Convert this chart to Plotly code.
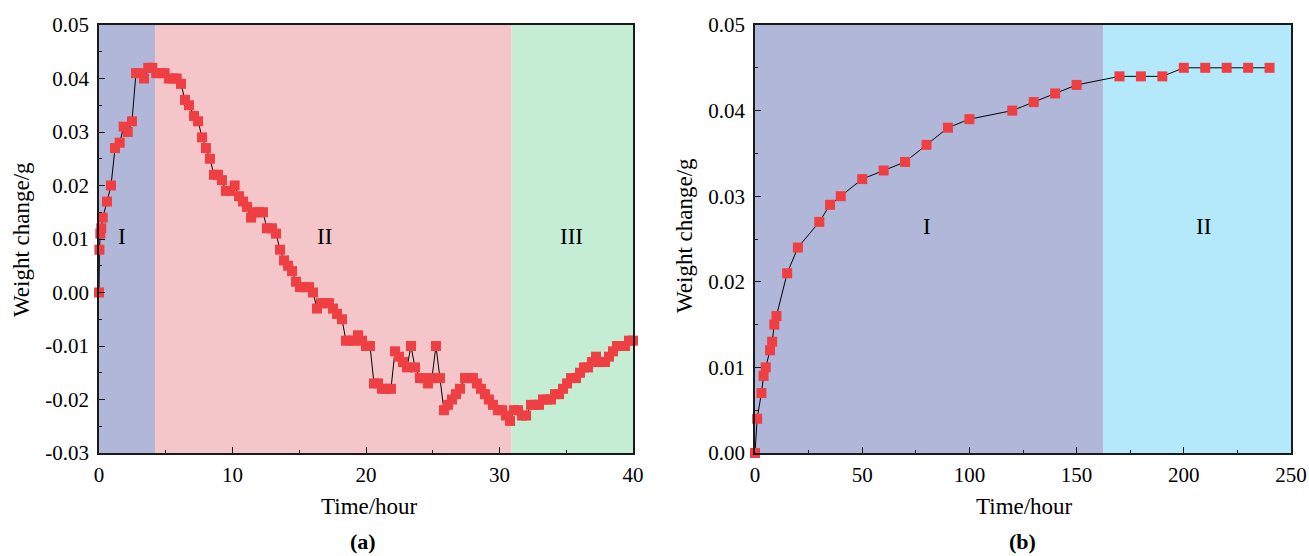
import plotly.graph_objects as go

# ---------------- data: panel (a) ----------------
time_a = [0.00, 0.03, 0.10, 0.17, 0.28, 0.60, 0.90, 1.20, 1.55, 1.85,
          2.15, 2.47, 2.77, 3.07, 3.37, 3.69, 3.99, 4.29, 4.62, 4.91,
          5.24, 5.54, 5.82, 6.14, 6.44, 6.74, 7.12, 7.42, 7.72, 8.01,
          8.31, 8.61, 8.91, 9.21, 9.51, 9.81, 10.16, 10.49, 10.79, 11.09,
          11.39, 11.69, 11.99, 12.28, 12.58, 12.96, 13.26, 13.56, 13.86, 14.16,
          14.46, 14.76, 15.06, 15.43, 15.73, 16.03, 16.33, 16.63, 16.93, 17.23,
          17.53, 17.83, 18.20, 18.50, 18.80, 19.10, 19.40, 19.70, 20.00, 20.30,
          20.60, 20.90, 21.20, 21.50, 21.87, 22.17, 22.47, 22.77, 23.07, 23.37,
          23.67, 24.04, 24.34, 24.64, 24.94, 25.24, 25.54, 25.84, 26.14, 26.44,
          26.74, 27.04, 27.42, 27.72, 28.01, 28.31, 28.61, 28.91, 29.21, 29.51,
          29.89, 30.19, 30.49, 30.79, 31.09, 31.39, 31.69, 31.99, 32.36, 32.66,
          32.96, 33.26, 33.56, 33.86, 34.16, 34.46, 34.76, 35.06, 35.36, 35.73,
          36.03, 36.33, 36.63, 36.93, 37.23, 37.53, 37.90, 38.20, 38.50, 38.80,
          39.10, 39.40, 39.70, 40.00]
weight_a = [0.000, 0.008, 0.011, 0.012, 0.014, 0.017, 0.020, 0.027, 0.028, 0.031,
            0.030, 0.032, 0.041, 0.041, 0.040, 0.042, 0.042, 0.041, 0.041, 0.041,
            0.040, 0.040, 0.040, 0.039, 0.036, 0.035, 0.033, 0.032, 0.029, 0.027,
            0.025, 0.022, 0.022, 0.021, 0.019, 0.019, 0.020, 0.018, 0.017, 0.016,
            0.014, 0.015, 0.015, 0.015, 0.012, 0.012, 0.011, 0.008, 0.006, 0.005,
            0.004, 0.002, 0.001, 0.001, 0.001, 0.000, -0.003, -0.002, -0.002, -0.002,
            -0.003, -0.004, -0.005, -0.009, -0.009, -0.009, -0.008, -0.009, -0.010, -0.010,
            -0.017, -0.017, -0.018, -0.018, -0.018, -0.011, -0.012, -0.013, -0.014, -0.010,
            -0.014, -0.016, -0.016, -0.017, -0.016, -0.010, -0.016, -0.022, -0.021, -0.020,
            -0.019, -0.018, -0.016, -0.016, -0.016, -0.017, -0.018, -0.019, -0.020, -0.021,
            -0.022, -0.022, -0.023, -0.024, -0.022, -0.022, -0.023, -0.023, -0.021, -0.021,
            -0.021, -0.020, -0.020, -0.020, -0.019, -0.019, -0.018, -0.017, -0.016, -0.016,
            -0.015, -0.014, -0.014, -0.013, -0.012, -0.013, -0.013, -0.012, -0.011, -0.010,
            -0.010, -0.010, -0.009, -0.009]

# stage boundaries (hours) and labels, panel (a)
stages_a = [(0, 4.2, "I"), (4.2, 30.9, "II"), (30.9, 40, "III")]
stage_label_x_a = [1.7, 16.9, 35.4]
stage_label_y_a = [0.0105, 0.0105, 0.0105]
stage_colors_a = ["#B0B7D9", "#F4C6CA", "#C5EDD3"]

xticks_a = [0, 10, 20, 30, 40]
yticks_a = [-0.03, -0.02, -0.01, 0.00, 0.01, 0.02, 0.03, 0.04, 0.05]

# ---------------- data: panel (b) ----------------
time_b = [0, 1, 3, 4, 5, 7, 8, 9, 10, 15, 20, 30, 35, 40, 50, 60, 70, 80, 90,
          100, 120, 130, 140, 150, 170, 180, 190, 200, 210, 220, 230, 240]
weight_b = [0.000, 0.004, 0.007, 0.009, 0.010, 0.012, 0.013, 0.015, 0.016, 0.021,
            0.024, 0.027, 0.029, 0.030, 0.032, 0.033, 0.034, 0.036, 0.038, 0.039,
            0.040, 0.041, 0.042, 0.043, 0.044, 0.044, 0.044, 0.045, 0.045, 0.045,
            0.045, 0.045]

stages_b = [(0, 162.5, "I"), (162.5, 250, "II")]
stage_label_x_b = [80, 209]
stage_label_y_b = [0.0265, 0.0265]
stage_colors_b = ["#B0B7D9", "#B3E9FA"]

xticks_b = [0, 50, 100, 150, 200, 250]
yticks_b = [0.00, 0.01, 0.02, 0.03, 0.04, 0.05]

# ---------------- styling ----------------
FONT = "Liberation Serif, Times New Roman, serif"
MARKER_COLOR = "#EF3F42"
AXIS_COLOR = "#1a1a1a"

W, H = 1309, 556
TOP, BOT = 25, 453          # plot area top / bottom in pixels
dom_a = [99 / W, 633 / W]
dom_b = [755 / W, 1291 / W]


def px(xp):
    return xp / W


def py(yp):
    return (BOT - yp) / (BOT - TOP)


fig = go.Figure()

fig.add_trace(go.Scatter(
    x=time_a, y=weight_a, mode="lines+markers", xaxis="x", yaxis="y",
    line=dict(color="black", width=1),
    marker=dict(symbol="square", size=10, color=MARKER_COLOR, line=dict(width=0)),
    cliponaxis=False, showlegend=False))

fig.add_trace(go.Scatter(
    x=time_b, y=weight_b, mode="lines+markers", xaxis="x2", yaxis="y2",
    line=dict(color="black", width=1),
    marker=dict(symbol="square", size=10, color=MARKER_COLOR, line=dict(width=0)),
    cliponaxis=False, showlegend=False))

shapes = []
annotations = []
for (x0, x1, lab), col, lx, ly in zip(stages_a, stage_colors_a, stage_label_x_a, stage_label_y_a):
    shapes.append(dict(type="rect", xref="x", yref="y domain", x0=x0, x1=x1, y0=0, y1=1,
                       fillcolor=col, line=dict(width=0), layer="below"))
    annotations.append(dict(x=lx, y=ly, xref="x", yref="y", text=lab, showarrow=False,
                            xanchor="center", yanchor="middle",
                            font=dict(family=FONT, size=23, color="black")))
for (x0, x1, lab), col, lx, ly in zip(stages_b, stage_colors_b, stage_label_x_b, stage_label_y_b):
    shapes.append(dict(type="rect", xref="x2", yref="y2 domain", x0=x0, x1=x1, y0=0, y1=1,
                       fillcolor=col, line=dict(width=0), layer="below"))
    annotations.append(dict(x=lx, y=ly, xref="x2", yref="y2", text=lab, showarrow=False,
                            xanchor="center", yanchor="middle",
                            font=dict(family=FONT, size=23, color="black")))


def fmt(v):
    return f"{v:.2f}"


TITLE_FONT = dict(family=FONT, size=23, color="black")
PANEL_FONT = dict(family=FONT, size=22, color="black")
annotations += [
    dict(x=px(22), y=py(240), xref="paper", yref="paper", text="Weight change/g",
         textangle=-90, showarrow=False, xanchor="center", yanchor="middle", font=TITLE_FONT),
    dict(x=px(684), y=py(236), xref="paper", yref="paper", text="Weight change/g",
         textangle=-90, showarrow=False, xanchor="center", yanchor="middle", font=TITLE_FONT),
    dict(x=px(369), y=py(506), xref="paper", yref="paper", text="Time/hour",
         showarrow=False, xanchor="center", yanchor="middle", font=TITLE_FONT),
    dict(x=px(1024), y=py(506), xref="paper", yref="paper", text="Time/hour",
         showarrow=False, xanchor="center", yanchor="middle", font=TITLE_FONT),
    dict(x=px(363), y=py(541), xref="paper", yref="paper", text="<b>(a)</b>",
         showarrow=False, xanchor="center", yanchor="middle", borderpad=0, font=PANEL_FONT),
    dict(x=px(1022), y=py(541), xref="paper", yref="paper", text="<b>(b)</b>",
         showarrow=False, xanchor="center", yanchor="middle", borderpad=0, font=PANEL_FONT),
]

common_axis = dict(
    showgrid=False, zeroline=False, showline=True, linecolor=AXIS_COLOR, linewidth=1.5,
    mirror=True, ticks="inside", ticklen=6, tickwidth=1.2, tickcolor=AXIS_COLOR,
    automargin=False,
    tickfont=dict(family=FONT, size=21, color="black"),
)

fig.update_layout(
    width=W, height=H,
    margin=dict(l=0, r=0, t=TOP, b=H - BOT, autoexpand=False),
    paper_bgcolor="white", plot_bgcolor="white",
    shapes=shapes, annotations=annotations,
    xaxis=dict(domain=dom_a, range=[0, 40], tickvals=xticks_a,
               ticktext=[str(v) for v in xticks_a], anchor="y",
               minor=dict(ticks="inside", ticklen=3, tickwidth=1, dtick=5, tickcolor=AXIS_COLOR),
               ticklabelstandoff=2, **common_axis),
    yaxis=dict(domain=[0, 1], range=[-0.03, 0.05], tickvals=yticks_a,
               ticktext=[fmt(v) for v in yticks_a], anchor="x",
               minor=dict(ticks="inside", ticklen=3, tickwidth=1, dtick=0.005, tickcolor=AXIS_COLOR),
               ticklabelstandoff=4, **common_axis),
    xaxis2=dict(domain=dom_b, range=[0, 250], tickvals=xticks_b,
                ticktext=[str(v) for v in xticks_b], anchor="y2",
                minor=dict(ticks="inside", ticklen=3, tickwidth=1, dtick=25, tickcolor=AXIS_COLOR),
                ticklabelstandoff=2, **common_axis),
    yaxis2=dict(domain=[0, 1], range=[0, 0.05], tickvals=yticks_b,
                ticktext=[fmt(v) for v in yticks_b], anchor="x2",
                minor=dict(ticks="inside", ticklen=3, tickwidth=1, dtick=0.005, tickcolor=AXIS_COLOR),
                ticklabelstandoff=4, **common_axis),
)

fig.write_html("out.html")
